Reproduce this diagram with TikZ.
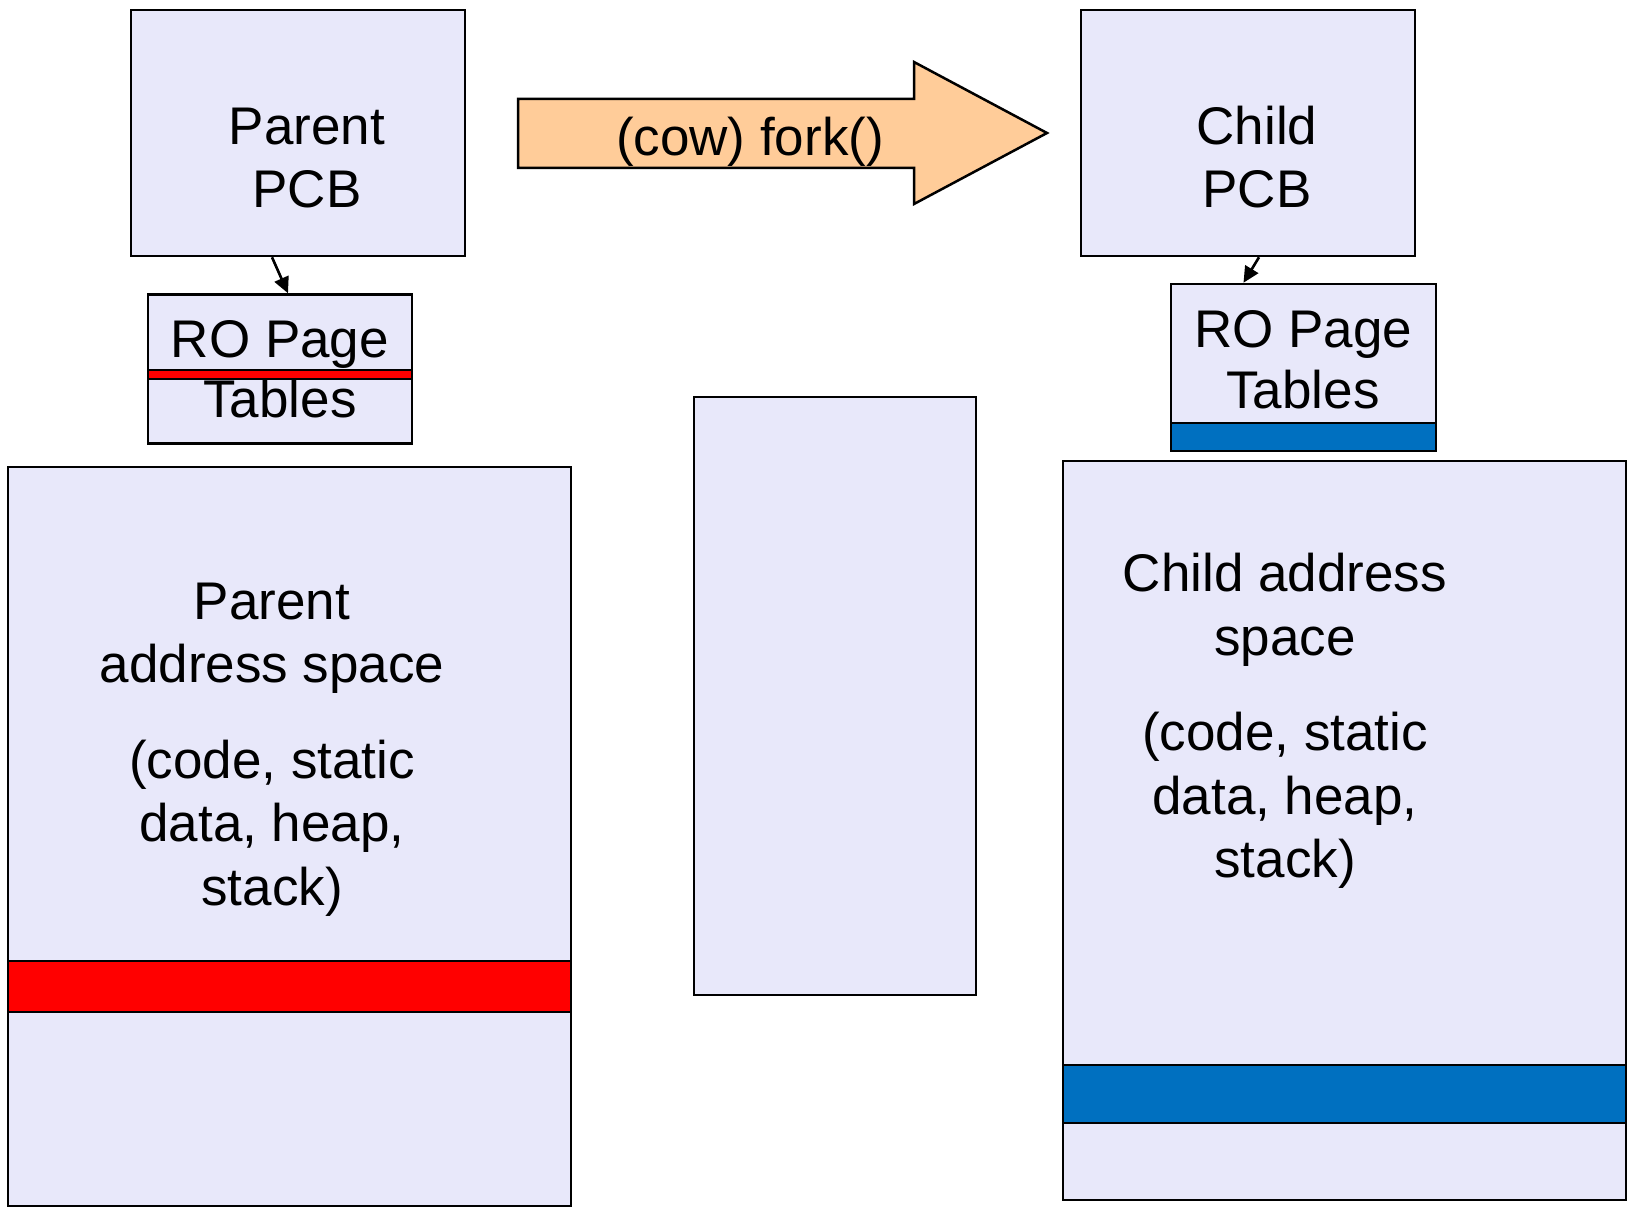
\documentclass[tikz,border=0pt]{standalone}
\usepackage{fontspec}
\setmainfont{Liberation Sans}
\usetikzlibrary{arrows.meta}
\definecolor{boxfill}{HTML}{E8E8FA}
\definecolor{forkfill}{HTML}{FFCC99}
\definecolor{cowblue}{HTML}{0070C0}
\definecolor{cowred}{HTML}{FF0000}
\tikzset{
  box/.style={draw=black, line width=2.5pt, fill=boxfill, inner sep=0pt},
  bar/.style={draw=black, line width=2.5pt, inner sep=0pt},
  lbl/.style={anchor=base, inner sep=0pt, font=\fontsize{53}{63}\selectfont},
  link/.style={line width=2.6pt, -{Triangle[length=16pt,width=15pt]}}
}
\begin{document}
\begin{tikzpicture}[x=1pt,y=-1pt]
\useasboundingbox (0,0) rectangle (1628,1209);
% boxes
\node[box, minimum width=334pt, minimum height=246pt] (ppcb) at (298,133) {};
\node[box, minimum width=334pt, minimum height=246pt] (cpcb) at (1248,133) {};
\node[box, minimum width=264pt, minimum height=149pt] (ppt) at (280,369) {};
\node[box, minimum width=265pt, minimum height=167pt] (cpt) at (1303.5,367.5) {};
\node[box, minimum width=563pt, minimum height=739pt] (pas) at (289.5,836.5) {};
\node[box, minimum width=282pt, minimum height=598pt] (mid) at (835,696) {};
\node[box, minimum width=563pt, minimum height=739pt] (cas) at (1344.5,830.5) {};
% coloured bars
\node[bar, fill=cowred, minimum width=264pt, minimum height=9pt] (pptbar) at (280,374.5) {};
\node[bar, fill=cowblue, minimum width=265pt, minimum height=28pt] (cptbar) at (1303.5,437) {};
\node[bar, fill=cowred, minimum width=563pt, minimum height=51pt] (pasbar) at (289.5,986.5) {};
\node[bar, fill=cowblue, minimum width=563pt, minimum height=58pt] (casbar) at (1344.5,1094) {};
% fork arrow
\draw[line width=2.5pt, fill=forkfill, line join=miter]
  (518,99) -- (914,99) -- (914,62) -- (1047,133) -- (914,204) -- (914,168) -- (518,168) -- cycle;
\node[lbl] (forklbl) at (750,156) {(cow) fork()};
% connectors
\draw[link] ([xshift=-26pt]ppcb.south) -- ([xshift=8pt]ppt.north);
\draw[link] ([xshift=11pt]cpcb.south) -- ([xshift=-60pt]cpt.north);
% texts
\node[lbl] (pp1) at (307,145) {Parent};
\node[lbl] (pp2) at (307,208) {PCB};
\node[lbl] (cp1) at (1257,145) {Child};
\node[lbl] (cp2) at (1257,208) {PCB};
\node[lbl] (pt1) at (280,357) {RO Page};
\node[lbl] (pt2) at (280,417) {Tables};
\node[lbl] (ct1) at (1303,347) {RO Page};
\node[lbl] (ct2) at (1303,408) {Tables};
\node[lbl] (pa1) at (272,619) {Parent};
\node[lbl] (pa2) at (272,682) {address space};
\node[lbl] (pa3) at (272,778) {(code, static};
\node[lbl] (pa4) at (272,841) {data, heap,};
\node[lbl] (pa5) at (272,905) {stack)};
\node[lbl] (ca1) at (1285,591) {Child address};
\node[lbl] (ca2) at (1285,655) {space};
\node[lbl] (ca3) at (1285,750) {(code, static};
\node[lbl] (ca4) at (1285,814) {data, heap,};
\node[lbl] (ca5) at (1285,877) {stack)};
\end{tikzpicture}
\end{document}
